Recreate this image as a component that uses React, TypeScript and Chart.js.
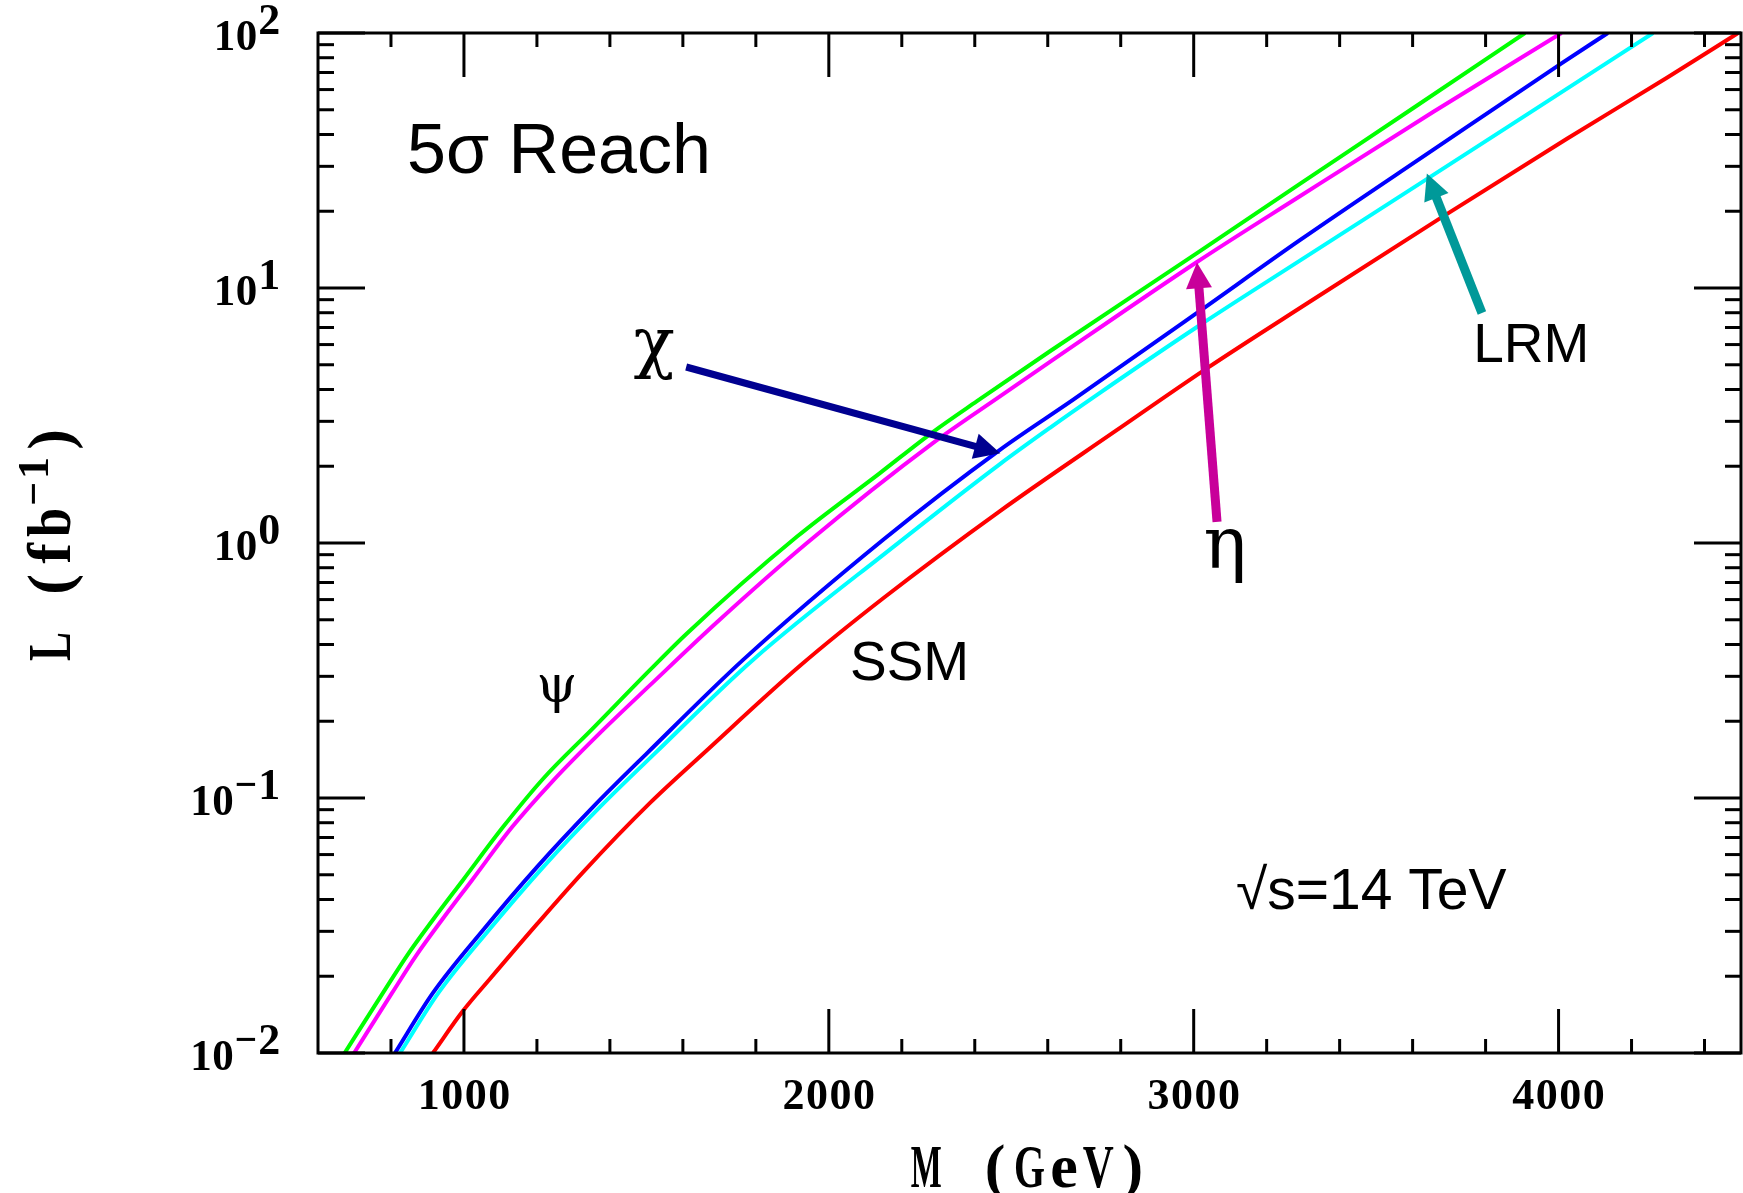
import React, { useEffect, useRef } from 'react';
import { Chart, registerables } from 'chart.js';

Chart.register(...registerables);

// ---- data: 5 sigma discovery luminosity (fb^-1) vs Z' mass (GeV) ----
const psiMass = [673, 778, 844, 915, 997, 1107, 1217, 1354, 1510, 1611, 1913, 2140, 2286, 2406, 2606, 3009, 3291, 3601, 3908];
const psiLum = [0.01, 0.0172, 0.0241, 0.0333, 0.0476, 0.0769, 0.119, 0.188, 0.318, 0.442, 1.06, 1.88, 2.73, 3.60, 5.65, 13.7, 25.6, 50.7, 100];

const etaMass = [699, 803, 869, 940, 1022, 1132, 1242, 1373, 1510, 1694, 1940, 2286, 2469, 2606, 3009, 3291, 3656, 4008];
const etaLum = [0.01, 0.0172, 0.0241, 0.0333, 0.0476, 0.0769, 0.116, 0.180, 0.277, 0.490, 1.0, 2.47, 3.76, 5.13, 12.65, 22.9, 49.0, 100];

const chiMass = [811, 915, 1052, 1200, 1354, 1502, 1765, 2149, 2469, 2669, 3009, 3291, 3656, 4009, 4135];
const chiLum = [0.01, 0.0172, 0.0303, 0.0536, 0.0923, 0.15, 0.348, 1.03, 2.32, 3.64, 7.98, 15.4, 34.8, 76.2, 100];

const lrmMass = [825, 930, 1068, 1217, 1373, 1524, 1792, 2176, 2469, 2606, 2735, 3009, 3291, 3642, 3930, 4259];
const lrmLum = [0.01, 0.0172, 0.0303, 0.0536, 0.0923, 0.15, 0.348, 0.964, 2.04, 2.83, 3.81, 7.03, 12.8, 26.9, 49.6, 100];

const ssmMass = [915, 997, 1071, 1200, 1326, 1510, 1666, 1921, 2149, 2469, 2786, 3037, 3319, 3675, 4023, 4297, 4492];
const ssmLum = [0.01, 0.0146, 0.0195, 0.032, 0.0511, 0.0957, 0.154, 0.33, 0.607, 1.334, 2.75, 4.85, 8.85, 18.75, 38.5, 66.8, 100];

// ---- axes ----
const xRange = [600, 4500];
const yRange = [0.01, 100];
const xMajorTicks = [1000, 2000, 3000, 4000];
const xTickLabels = ['1000', '2000', '3000', '4000'];
const xMinorTicks = [800, 1200, 1400, 1600, 1800, 2200, 2400, 2600, 2800, 3200, 3400, 3600, 3800, 4200, 4400];
const yMajorTicks = [0.01, 0.1, 1, 10, 100];
const yTickExponents = ['\u22122', '\u22121', '0', '1', '2'];
const yMinorTicks = [
  0.02, 0.03, 0.04, 0.05, 0.06, 0.07, 0.08, 0.09,
  0.2, 0.3, 0.4, 0.5, 0.6, 0.7, 0.8, 0.9,
  2, 3, 4, 5, 6, 7, 8, 9,
  20, 30, 40, 50, 60, 70, 80, 90,
];
const xTitle = 'M (GeV)';
const yTitleMain = 'L (fb';
const yTitleSup = '\u22121';
const yTitleEnd = ')';

// ---- annotations (anchors in data units) ----
const labelTexts = ['5\u03c3 Reach', 'SSM', 'LRM', '\u221as=14 TeV'];
const labelMass = [844, 2058, 3766, 3116];
const labelLum = [28.2, 0.29, 5.13, 0.0367];
const greekTexts = ['\u03c7', '\u03b7', '\u03c8'];
const greekMass = [1521, 3086, 1255];
const greekLum = [4.99, 0.80, 0.238];
const arrowTailMass = [1609, 3064, 3790];
const arrowTailLum = [4.9, 1.21, 7.98];
const arrowHeadMass = [2470, 3009, 3639];
const arrowHeadLum = [2.25, 12.6, 28.1];

const series = [
  { label: '\u03c8', mass: psiMass, lum: psiLum, color: '#00ff00' },
  { label: '\u03b7', mass: etaMass, lum: etaLum, color: '#ff00ff' },
  { label: '\u03c7', mass: chiMass, lum: chiLum, color: '#0000ff' },
  { label: 'LRM', mass: lrmMass, lum: lrmLum, color: '#00ffff' },
  { label: 'SSM', mass: ssmMass, lum: ssmLum, color: '#ff0000' },
];

const arrowColors = ['#000090', '#c8009a', '#009999'];
const greekSizes = [68, 72, 52];
const labelSizes = [70, 55, 55, 57];

// draws text with each character centred in a fixed-width cell (typewriter look)
function cellText(
  ctx: CanvasRenderingContext2D, text: string, x: number, y: number, font: string,
  pitch: number, align: 'left' | 'center' | 'right', maxW?: number,
) {
  const chars = Array.from(text);
  const total = chars.length * pitch;
  const x0 = align === 'left' ? x : align === 'center' ? x - total / 2 : x - total;
  ctx.save();
  ctx.font = font;
  ctx.textAlign = 'center';
  ctx.textBaseline = 'alphabetic';
  chars.forEach((c, i) => {
    const cx = x0 + pitch * (i + 0.5);
    const w = ctx.measureText(c).width;
    const sx = maxW && w > maxW ? maxW / w : 1;
    ctx.save();
    ctx.translate(cx, y);
    ctx.scale(sx, 1);
    ctx.fillText(c, 0, 0);
    ctx.restore();
  });
  ctx.restore();
  return total;
}

function drawArrow(ctx: CanvasRenderingContext2D, x0: number, y0: number, x1: number, y1: number, color: string, w: number, headLen: number, headW: number) {
  const dx = x1 - x0;
  const dy = y1 - y0;
  const len = Math.hypot(dx, dy);
  const ux = dx / len;
  const uy = dy / len;
  const bx = x1 - ux * headLen;
  const by = y1 - uy * headLen;
  ctx.save();
  ctx.strokeStyle = color;
  ctx.fillStyle = color;
  ctx.lineWidth = w;
  ctx.lineCap = 'butt';
  ctx.beginPath();
  ctx.moveTo(x0, y0);
  ctx.lineTo(bx + ux * 2, by + uy * 2);
  ctx.stroke();
  ctx.beginPath();
  ctx.moveTo(x1, y1);
  ctx.lineTo(bx - uy * headW / 2, by + ux * headW / 2);
  ctx.lineTo(bx + uy * headW / 2, by - ux * headW / 2);
  ctx.closePath();
  ctx.fill();
  ctx.restore();
}

const framePlugin = {
  id: 'physicsFrame',
  afterDatasetsDraw(chart: any) {
    const ctx: CanvasRenderingContext2D = chart.ctx;
    const a = chart.chartArea;
    const xs = chart.scales.x;
    const ys = chart.scales.y;
    ctx.save();

    // annotations
    ctx.fillStyle = '#000';
    labelTexts.forEach((t, i) => {
      ctx.font = `${labelSizes[i]}px "Liberation Sans", Arial, sans-serif`;
      ctx.textAlign = 'left';
      ctx.textBaseline = 'alphabetic';
      ctx.fillText(t, xs.getPixelForValue(labelMass[i]), ys.getPixelForValue(labelLum[i]));
    });
    greekTexts.forEach((t, i) => {
      ctx.font = `${greekSizes[i]}px "DejaVu Serif", "Liberation Serif", serif`;
      ctx.textAlign = 'center';
      ctx.textBaseline = 'alphabetic';
      ctx.fillText(t, xs.getPixelForValue(greekMass[i]), ys.getPixelForValue(greekLum[i]));
    });
    arrowTailMass.forEach((m, i) => {
      drawArrow(
        ctx,
        xs.getPixelForValue(m), ys.getPixelForValue(arrowTailLum[i]),
        xs.getPixelForValue(arrowHeadMass[i]), ys.getPixelForValue(arrowHeadLum[i]),
        arrowColors[i], i === 0 ? 7 : 9, 26, 26,
      );
    });

    // frame
    ctx.strokeStyle = '#000';
    ctx.lineWidth = 3;
    ctx.lineCap = 'butt';
    ctx.strokeRect(a.left, a.top, a.right - a.left, a.bottom - a.top);
    const seg = (x1: number, y1: number, x2: number, y2: number) => {
      ctx.beginPath();
      ctx.moveTo(x1, y1);
      ctx.lineTo(x2, y2);
      ctx.stroke();
    };
    xMajorTicks.forEach((v) => {
      const p = xs.getPixelForValue(v);
      seg(p, a.bottom, p, a.bottom - 44);
      seg(p, a.top, p, a.top + 44);
    });
    xMinorTicks.forEach((v) => {
      const p = xs.getPixelForValue(v);
      seg(p, a.bottom, p, a.bottom - 14);
      seg(p, a.top, p, a.top + 14);
    });
    yMajorTicks.forEach((v) => {
      const p = ys.getPixelForValue(v);
      seg(a.left, p, a.left + 47, p);
      seg(a.right, p, a.right - 47, p);
    });
    yMinorTicks.forEach((v) => {
      const p = ys.getPixelForValue(v);
      seg(a.left, p, a.left + 16, p);
      seg(a.right, p, a.right - 16, p);
    });

    // tick labels
    const tickFont = 'bold 44px "Liberation Serif", "DejaVu Serif", serif';
    const tickPitch = 23.5;
    ctx.fillStyle = '#000';
    xMajorTicks.forEach((v, i) => {
      cellText(ctx, xTickLabels[i], xs.getPixelForValue(v), a.bottom + 56, tickFont, tickPitch, 'center', 22.5);
    });
    yMajorTicks.forEach((v, i) => {
      const p = ys.getPixelForValue(v);
      const right = a.left - 37;
      const supW = cellText(ctx, yTickExponents[i], right, p + 1, tickFont, tickPitch, 'right', 22.5);
      cellText(ctx, '10', right - supW, p + 17, tickFont, 22, 'right', 21.5);
    });

    // axis titles
    const titleFont = 'bold 62px "Liberation Serif", "DejaVu Serif", serif';
    const supFont = 'bold 44px "Liberation Serif", "DejaVu Serif", serif';
    cellText(ctx, xTitle, (a.left + a.right) / 2, 1187, titleFont, 34.4, 'center', 31);

    ctx.save();
    ctx.translate(70, (a.top + a.bottom) / 2);
    ctx.rotate(-Math.PI / 2);
    const p1 = 31;
    const p2 = 26;
    const total = Array.from(yTitleMain).length * p1 + Array.from(yTitleSup).length * p2 + p1;
    let cur = -total / 2;
    cur += cellText(ctx, yTitleMain, cur, 0, titleFont, p1, 'left', 29);
    cur += cellText(ctx, yTitleSup, cur, -22, supFont, p2, 'left', 24);
    cellText(ctx, yTitleEnd, cur, 0, titleFont, p1, 'left', 29);
    ctx.restore();

    ctx.restore();
  },
};

export default function App() {
  const canvasRef = useRef<HTMLCanvasElement | null>(null);

  useEffect(() => {
    const canvas = canvasRef.current;
    if (!canvas) return;
    const chart = new Chart(canvas, {
      type: 'line',
      data: {
        datasets: series.map((s) => ({
          label: s.label,
          data: s.mass.map((m, i) => ({ x: m, y: s.lum[i] })),
          borderColor: s.color,
          backgroundColor: s.color,
          borderWidth: 4,
          pointRadius: 0,
          fill: false,
          cubicInterpolationMode: 'monotone' as const,
        })),
      },
      options: {
        responsive: false,
        animation: false,
        devicePixelRatio: 1,
        layout: { padding: { left: 318, top: 33, right: 2, bottom: 140 } },
        scales: {
          x: { type: 'linear', min: xRange[0], max: xRange[1], display: false },
          y: { type: 'logarithmic', min: yRange[0], max: yRange[1], display: false },
        },
        plugins: {
          legend: { display: false },
          tooltip: { enabled: false },
        },
        events: [],
      },
      plugins: [framePlugin],
    });
    return () => chart.destroy();
  }, []);

  return (
    <div style={{ position: 'absolute', left: 0, top: 0, width: 1743, height: 1193, background: '#fff' }}>
      <canvas ref={canvasRef} width={1743} height={1193} style={{ width: 1743, height: 1193, display: 'block' }} />
    </div>
  );
}
